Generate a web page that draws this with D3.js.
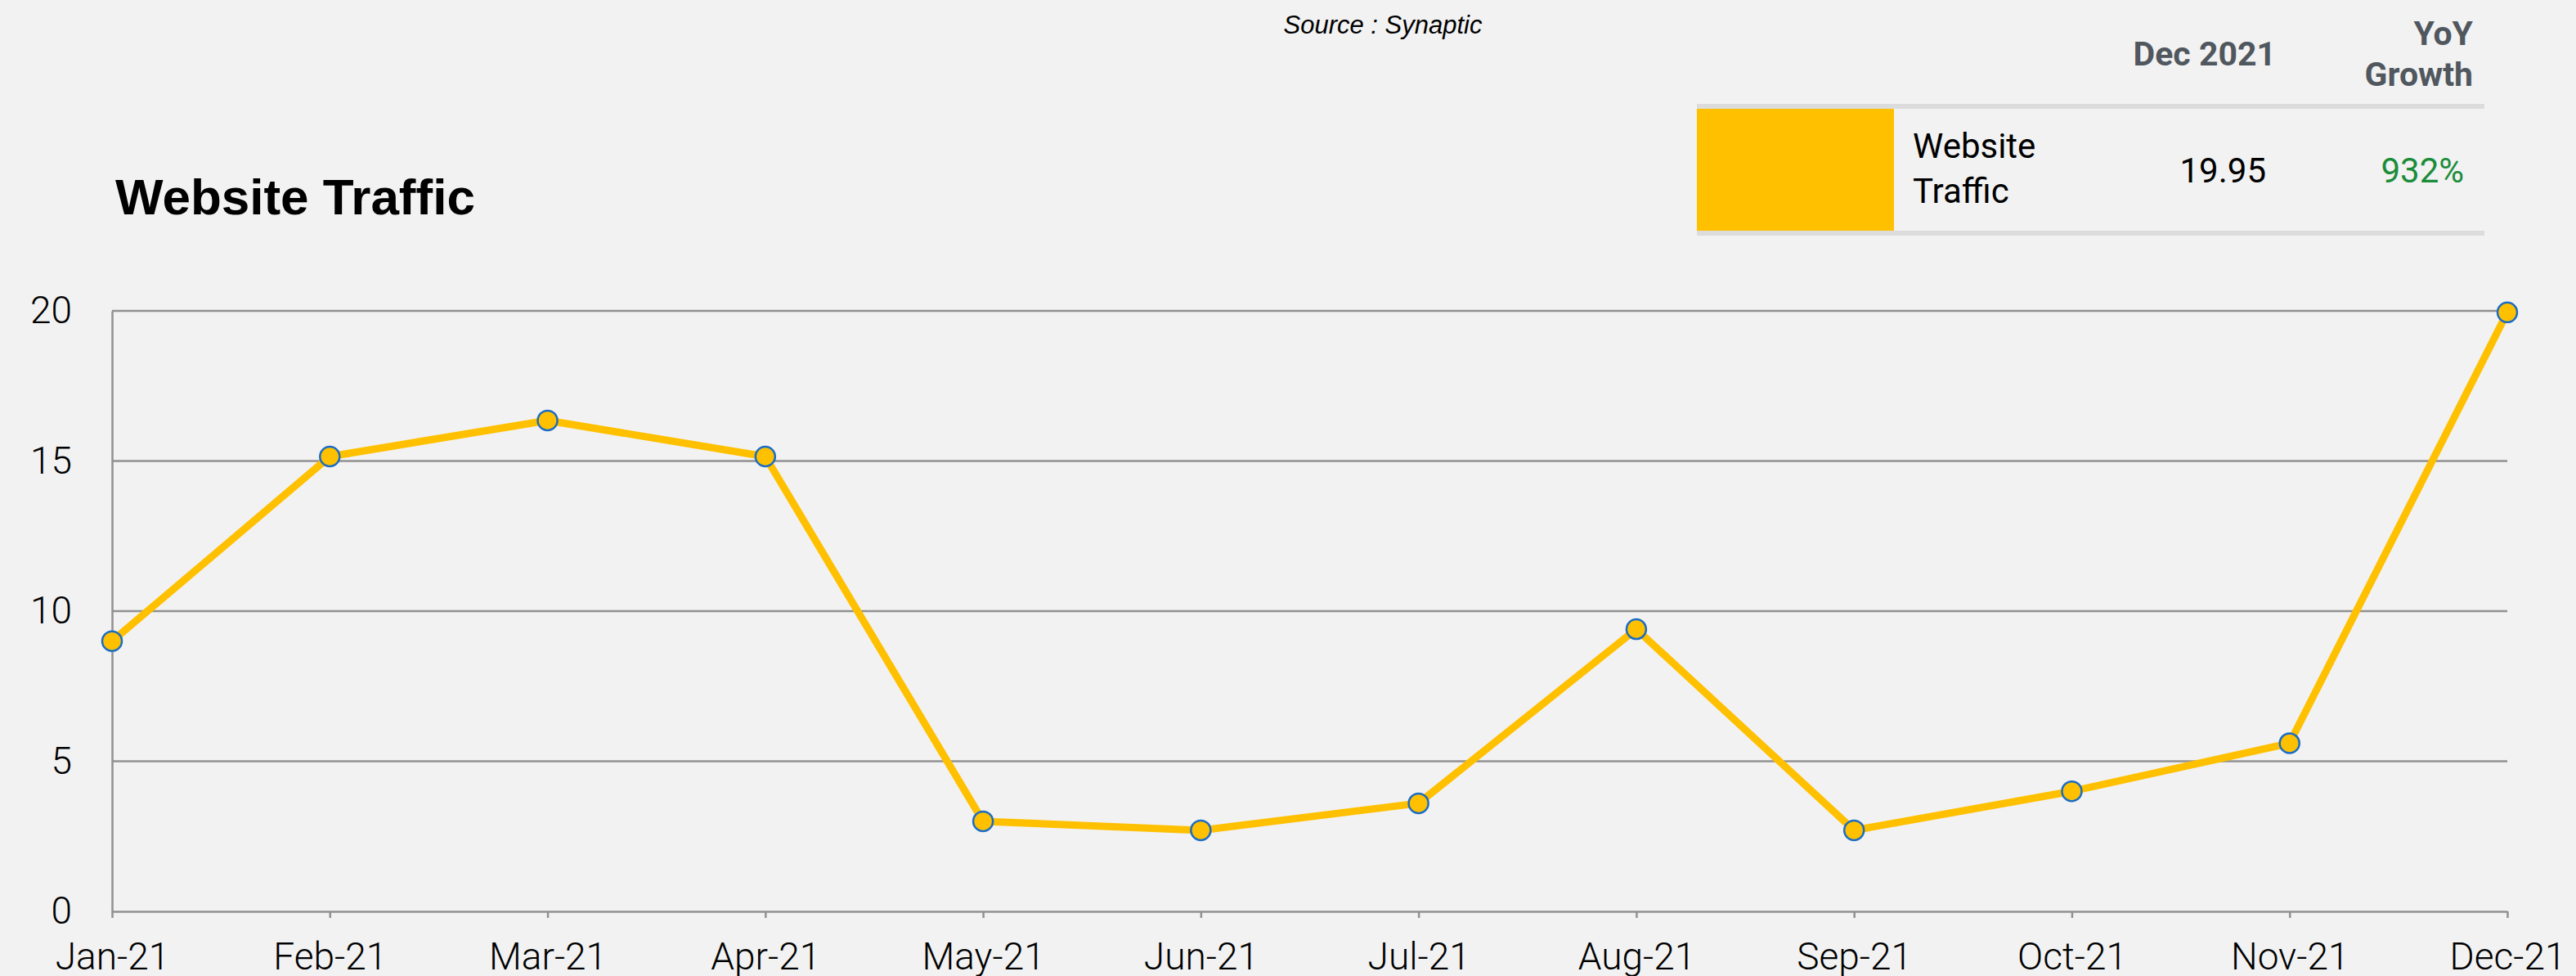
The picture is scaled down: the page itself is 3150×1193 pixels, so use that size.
<!DOCTYPE html>
<html>
<head>
<meta charset="utf-8">
<script src="https://cdn.jsdelivr.net/npm/d3@7"></script>
<style>
  body { margin: 0; background: #f2f2f2; }
  svg { display: block; }
</style>
</head>
<body>
<div id="chart"></div>
<script>
// chart data
const months = ['Jan-21', 'Feb-21', 'Mar-21', 'Apr-21', 'May-21', 'Jun-21',
  'Jul-21', 'Aug-21', 'Sep-21', 'Oct-21', 'Nov-21', 'Dec-21'];
const traffic = [9.0, 15.15, 16.35, 15.15, 3.0, 2.7, 3.6, 9.4, 2.7, 4.0, 5.6, 19.95];
const yTicks = [0, 5, 10, 15, 20];

// summary table
const tableHeaders = [['Dec 2021'], ['YoY', 'Growth']];
const seriesName = ['Website', 'Traffic'];
const latestValue = '19.95';
const yoyGrowth = '932%';

const title = 'Website Traffic';
const source = 'Source : Synaptic';

const width = 3150;
const height = 1193;
const margin = {top: 380, right: 84, bottom: 79, left: 137};

const svg = d3.select('#chart').append('svg')
  .attr('width', width)
  .attr('height', height);

svg.append('rect')
  .attr('width', width)
  .attr('height', height)
  .attr('fill', '#f2f2f2');

let x = d3.scalePoint()
  .domain(months)
  .range([margin.left, width - margin.right]);

let y = d3.scaleLinear()
  .domain([0, 20])
  .range([height - margin.bottom, margin.top]);

// gridlines
svg.append('g')
  .selectAll('line')
  .data(yTicks.filter(d => d > 0))
  .enter().append('line')
  .attr('x1', margin.left)
  .attr('x2', width - margin.right)
  .attr('y1', d => y(d))
  .attr('y2', d => y(d))
  .attr('stroke', '#919191')
  .attr('stroke-width', 2.5);

// y axis
let yAxis = svg.append('g')
  .attr('transform', 'translate(' + margin.left + ',0)')
  .call(d3.axisLeft(y).tickValues(yTicks).tickSize(0).tickPadding(49));

yAxis.select('.domain').attr('stroke', '#919191').attr('stroke-width', 2.5);
yAxis.selectAll('text')
  .style('font-family', 'Roboto, sans-serif')
  .style('font-weight', 300)
  .style('font-size', '46px')
  .attr('fill', '#000');

// x axis
let xAxis = svg.append('g')
  .attr('transform', 'translate(0,' + y(0) + ')')
  .call(d3.axisBottom(x).tickSizeInner(8).tickSizeOuter(0).tickPadding(30));

xAxis.select('.domain').attr('stroke', '#919191').attr('stroke-width', 2.5);
xAxis.selectAll('.tick line').attr('stroke', '#919191').attr('stroke-width', 2.5);
xAxis.selectAll('text')
  .style('font-family', 'Roboto, sans-serif')
  .style('font-weight', 300)
  .style('font-size', '46px')
  .attr('fill', '#000');

// line + markers
let line = d3.line()
  .x((d, i) => x(months[i]))
  .y(d => y(d));

svg.append('path')
  .datum(traffic)
  .attr('d', line)
  .attr('fill', 'none')
  .attr('stroke', '#ffc000')
  .attr('stroke-width', 9)
  .attr('stroke-linejoin', 'round');

svg.append('g')
  .selectAll('circle')
  .data(traffic)
  .enter().append('circle')
  .attr('cx', (d, i) => x(months[i]))
  .attr('cy', d => y(d))
  .attr('r', 12)
  .attr('fill', '#ffc000')
  .attr('stroke', '#1a6cc4')
  .attr('stroke-width', 2.5);

// title and source
svg.append('text')
  .attr('x', 141)
  .attr('y', 262)
  .style('font-family', '"Liberation Sans", Arial, sans-serif')
  .style('font-weight', 700)
  .style('font-size', '62px')
  .attr('fill', '#000')
  .text(title);

svg.append('text')
  .attr('x', 1691)
  .attr('y', 41)
  .attr('text-anchor', 'middle')
  .style('font-family', '"Liberation Sans", Arial, sans-serif')
  .style('font-style', 'italic')
  .style('font-size', '31px')
  .attr('fill', '#000')
  .text(source);

// summary table
let table = svg.append('g');
let tableLeft = 2075, tableRight = 3038;

table.append('rect')
  .attr('x', tableLeft).attr('y', 127)
  .attr('width', tableRight - tableLeft).attr('height', 6)
  .attr('fill', '#dcdcdc');
table.append('rect')
  .attr('x', tableLeft).attr('y', 282)
  .attr('width', tableRight - tableLeft).attr('height', 6)
  .attr('fill', '#dcdcdc');
table.append('rect')
  .attr('x', tableLeft).attr('y', 133)
  .attr('width', 241).attr('height', 149)
  .attr('fill', '#ffc000');

let headerX = [2783, 3024];
let headerY = [[80], [55, 105]];
tableHeaders.forEach((lines, c) => {
  lines.forEach((t, j) => {
    table.append('text')
      .attr('x', headerX[c])
      .attr('y', headerY[c][j])
      .attr('text-anchor', 'end')
      .style('font-family', 'Roboto, sans-serif')
      .style('font-weight', 700)
      .style('font-size', '41px')
      .attr('fill', '#50575e')
      .text(t);
  });
});

seriesName.forEach((t, j) => {
  table.append('text')
    .attr('x', 2339)
    .attr('y', 193 + j * 55)
    .style('font-family', 'Roboto, sans-serif')
    .style('font-size', '42px')
    .attr('fill', '#000')
    .text(t);
});

table.append('text')
  .attr('x', 2771).attr('y', 223)
  .attr('text-anchor', 'end')
  .style('font-family', 'Roboto, sans-serif')
  .style('font-size', '42px')
  .attr('fill', '#000')
  .text(latestValue);

table.append('text')
  .attr('x', 3013).attr('y', 223)
  .attr('text-anchor', 'end')
  .style('font-family', 'Roboto, sans-serif')
  .style('font-size', '42px')
  .attr('fill', '#1a8c3a')
  .text(yoyGrowth);
</script>
</body>
</html>
